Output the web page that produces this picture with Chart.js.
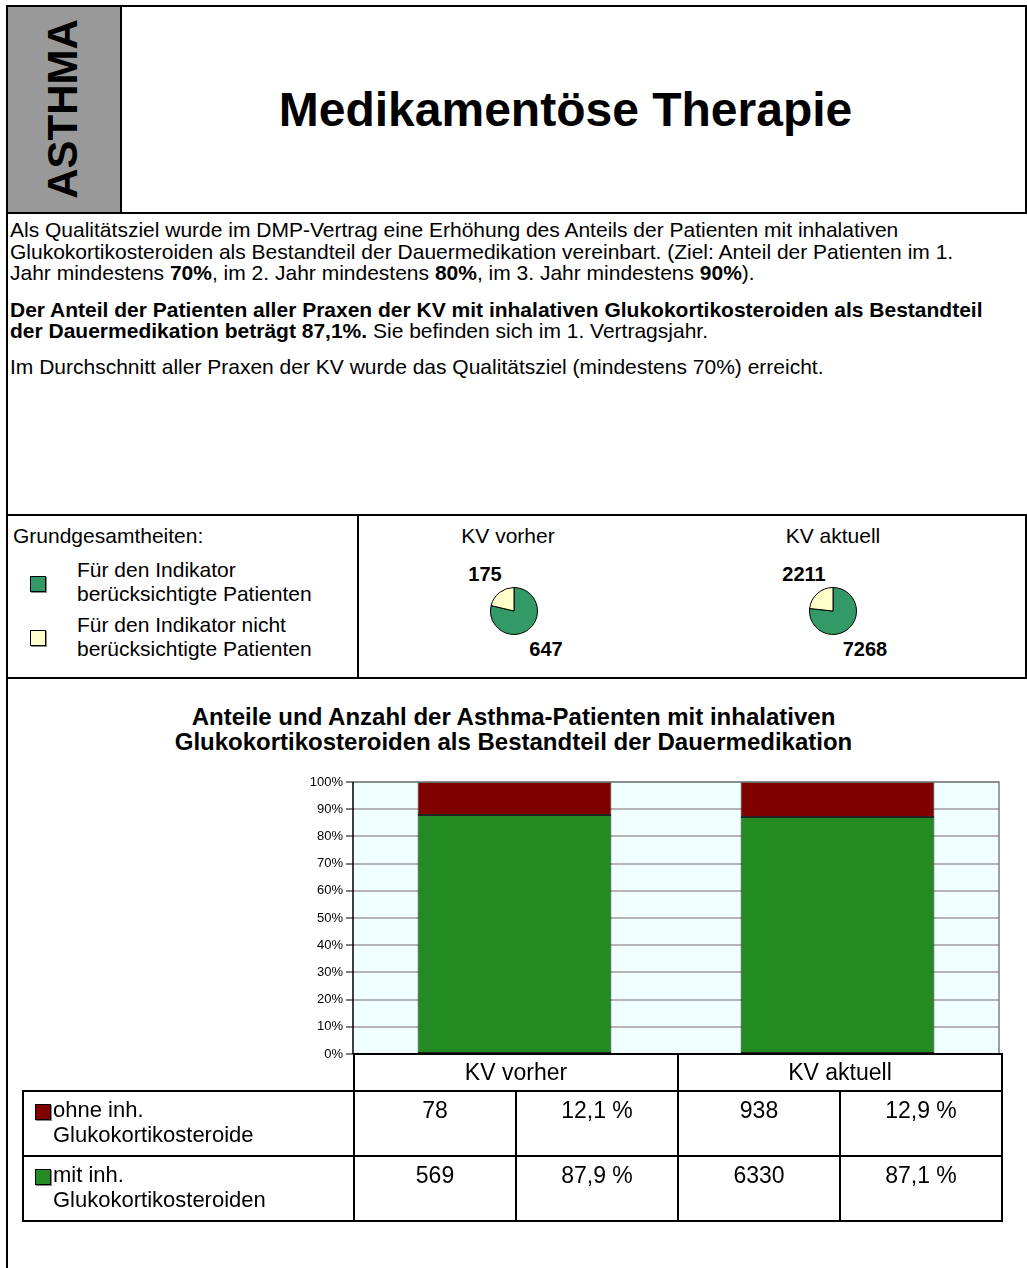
<!DOCTYPE html>
<html lang="de">
<head>
<meta charset="UTF-8">
<title>Medikamentöse Therapie</title>
<script src="https://cdn.jsdelivr.net/npm/chart.js"></script>
<style>
  body { margin: 0; background: #fff; font-family: "Liberation Sans", Arial, sans-serif; color: #000; }
  #page { position: relative; width: 1027px; height: 1268px; overflow: hidden; }
  .abs { position: absolute; }
  #header { left: 6px; top: 5px; width: 1017px; height: 205px; border: 2px solid #000; }
  #side { left: 0; top: 0; width: 112px; height: 205px; background: #999; border-right: 2px solid #000; }
  #side span { position: absolute; left: 55px; top: 102px; transform: translate(-50%, -50%) rotate(-90deg); font-weight: bold; font-size: 42px; white-space: nowrap; }
  #title { left: 114px; top: 0; right: 16px; height: 205px; display: flex; align-items: center; justify-content: center; font-weight: bold; font-size: 48px; }
  #leftline { left: 6px; top: 5px; width: 2px; height: 1263px; background: #000; }
  #text { left: 10px; top: 219px; width: 1015px; font-size: 21px; line-height: 21.5px; white-space: nowrap; }
  #text p { margin: 0 0 15px 0; }
  #text p.last { margin-top: -1px; }
  #grund { left: 6px; top: 514px; width: 1017px; height: 161px; border: 2px solid #000; }
  #grund .div { position: absolute; left: 349px; top: 0; width: 2px; height: 161px; background: #000; }
  .lbl { position: absolute; font-size: 21px; white-space: nowrap; }
  .sq { position: absolute; width: 14px; height: 14px; border: 1px solid #000; box-shadow: 1px 1px 0 #888; }
  .pienum { position: absolute; width: 80px; text-align: center; font-weight: bold; font-size: 20px; }
  #chartTitle { left: 0; width: 1027px; top: 704px; text-align: center; font-weight: bold; font-size: 24px; line-height: 25px; }
  #tbl { position: absolute; left: 22px; top: 1053px; border-collapse: collapse; table-layout: fixed; font-size: 23px; }
  #tbl td { padding: 0; vertical-align: top; text-align: center; white-space: nowrap; }
  #tbl tr.head td { height: 35px; vertical-align: middle; }
  #tbl tr.row td { height: 65px; border: 2px solid #000; padding-top: 7px; line-height: 23px; box-sizing: border-box; }
  #tbl tr.head td.h { border: 2px solid #000; }
  #tbl tr.row td.name { text-align: left; position: relative; padding-left: 29px; padding-top: 5px; font-size: 22px; line-height: 25px; }
  #tbl td.name .sq { left: 11px; top: 12px; }
</style>
</head>
<body>
<div id="page">
  <div id="leftline" class="abs"></div>
  <div id="header" class="abs">
    <div id="side" class="abs"><span>ASTHMA</span></div>
    <div id="title" class="abs">Medikamentöse Therapie</div>
  </div>

  <div id="text" class="abs">
    <p>Als Qualitätsziel wurde im DMP-Vertrag eine Erhöhung des Anteils der Patienten mit inhalativen<br>Glukokortikosteroiden als Bestandteil der Dauermedikation vereinbart. (Ziel: Anteil der Patienten im 1.<br>Jahr mindestens <b>70%</b>, im 2. Jahr mindestens <b>80%</b>, im 3. Jahr mindestens <b>90%</b>).</p>
    <p><b>Der Anteil der Patienten aller Praxen der KV mit inhalativen Glukokortikosteroiden als Bestandteil<br>der Dauermedikation beträgt 87,1%.</b> Sie befinden sich im 1. Vertragsjahr.</p>
    <p class="last">Im Durchschnitt aller Praxen der KV wurde das Qualitätsziel (mindestens 70%) erreicht.</p>
  </div>

  <div id="grund" class="abs">
    <div class="div"></div>
    <div class="lbl" style="left:5px; top:8px;">Grundgesamtheiten:</div>
    <div class="sq" style="left:22px; top:60px; background:#339966;"></div>
    <div class="lbl" style="left:69px; top:42px; line-height:24px;">Für den Indikator<br>berücksichtigte Patienten</div>
    <div class="sq" style="left:22px; top:114px; background:#ffffcc;"></div>
    <div class="lbl" style="left:69px; top:97px; line-height:24px;">Für den Indikator nicht<br>berücksichtigte Patienten</div>
  </div>

  <div id="chartTitle" class="abs">Anteile und Anzahl der Asthma-Patienten mit inhalativen<br>Glukokortikosteroiden als Bestandteil der Dauermedikation</div>

  <div class="abs" style="left:290px; top:770px; width:720px; height:295px;">
    <canvas id="bars" width="720" height="295"></canvas>
  </div>

  <table id="tbl"></table>
</div>

<script>
  // data
  const groups = ['KV vorher', 'KV aktuell'];
  const pieIncluded = [647, 7268];
  const pieExcluded = [175, 2211];
  const seriesNames = ['ohne inh.\nGlukokortikosteroide', 'mit inh.\nGlukokortikosteroiden'];
  const withoutCount = [78, 938];
  const withCount = [569, 6330];
  const withoutPct = [12.1, 12.9];
  const withPct = [87.9, 87.1];

  const GREEN = '#228b22';
  const RED = '#800000';
  const PIE_GREEN = '#339966';
  const PIE_YELLOW = '#ffffcc';

  // pies, positioned inside #grund
  const pieBox = document.getElementById('grund');
  const pieCenters = [[506, 95], [825, 95]];
  const titleShift = [-6, 0];
  groups.forEach((g, i) => {
    const [cx, cy] = pieCenters[i];
    const t = document.createElement('div');
    t.className = 'lbl';
    t.style.left = (cx - 60 + titleShift[i]) + 'px';
    t.style.width = '120px';
    t.style.textAlign = 'center';
    t.style.top = '8px';
    t.textContent = g;
    pieBox.appendChild(t);

    const wrap = document.createElement('div');
    wrap.style.cssText = `position:absolute; left:${cx - 25}px; top:${cy - 25}px; width:50px; height:50px;`;
    const c = document.createElement('canvas');
    c.width = 50; c.height = 50;
    wrap.appendChild(c);
    pieBox.appendChild(wrap);

    new Chart(c, {
      type: 'pie',
      data: {
        labels: ['berücksichtigt', 'nicht berücksichtigt'],
        datasets: [{
          data: [pieIncluded[i], pieExcluded[i]],
          backgroundColor: [PIE_GREEN, PIE_YELLOW],
          borderColor: '#000',
          borderWidth: 1
        }]
      },
      options: {
        responsive: false,
        animation: false,
        layout: { padding: 1 },
        plugins: { legend: { display: false }, tooltip: { enabled: false } }
      }
    });

    const top = document.createElement('div');
    top.className = 'pienum';
    top.style.left = (cx - 29 - 40) + 'px';
    top.style.top = (cy - 48) + 'px';
    top.textContent = pieExcluded[i];
    pieBox.appendChild(top);

    const bot = document.createElement('div');
    bot.className = 'pienum';
    bot.style.left = (cx + 32 - 40) + 'px';
    bot.style.top = (cy + 27) + 'px';
    bot.textContent = pieIncluded[i];
    pieBox.appendChild(bot);
  });

  // plot background + frame
  const plotFrame = {
    id: 'plotFrame',
    beforeDraw(chart) {
      const { ctx, chartArea: a } = chart;
      ctx.save();
      ctx.fillStyle = '#f0ffff';
      ctx.fillRect(a.left, a.top, a.right - a.left, a.bottom - a.top);
      ctx.restore();
    },
    afterDatasetsDraw(chart) {
      const { ctx, chartArea: a } = chart;
      ctx.save();
      ctx.strokeStyle = '#808080';
      ctx.lineWidth = 1.5;
      ctx.beginPath();
      ctx.moveTo(a.left, a.top);
      ctx.lineTo(a.right, a.top);
      ctx.lineTo(a.right, a.bottom);
      ctx.stroke();
      ctx.strokeStyle = '#000';
      ctx.beginPath();
      ctx.moveTo(a.left, a.top);
      ctx.lineTo(a.left, a.bottom);
      ctx.stroke();
      ctx.restore();
    }
  };

  new Chart(document.getElementById('bars'), {
    type: 'bar',
    data: {
      labels: groups,
      datasets: [
        { label: 'mit', data: withPct, backgroundColor: GREEN, borderColor: '#222', borderWidth: 1, borderSkipped: false },
        { label: 'ohne', data: withoutPct, backgroundColor: RED, borderColor: '#222', borderWidth: 1, borderSkipped: false }
      ]
    },
    options: {
      responsive: false,
      animation: false,
      layout: { padding: { top: 12, right: 11, bottom: 11, left: 0 } },
      datasets: { bar: { categoryPercentage: 1, barPercentage: 0.6 } },
      plugins: { legend: { display: false }, tooltip: { enabled: false } },
      scales: {
        x: { stacked: true, display: false },
        y: {
          stacked: true,
          min: 0, max: 100,
          afterFit: s => { s.width = 63; },
          ticks: { stepSize: 10, callback: v => v + '%', color: '#000', font: { family: 'Liberation Sans', size: 13 }, padding: 3 },
          grid: { color: '#b4b4b4', lineWidth: 2, tickColor: '#000', tickLength: 7, tickWidth: 1 },
          border: { display: false }
        }
      }
    },
    plugins: [plotFrame]
  });

  // table
  const fmt = v => v.toFixed(1).replace('.', ',') + ' %';
  const tbl = document.getElementById('tbl');
  const colW = [331, 162, 162, 162, 162];
  let html = '<colgroup>' + colW.map(w => `<col style="width:${w}px">`).join('') + '</colgroup>';
  html += '<tr class="head"><td></td>' + groups.map(g => `<td class="h" colspan="2">${g}</td>`).join('') + '</tr>';
  const rows = [
    { name: seriesNames[0], color: RED, counts: withoutCount, pcts: withoutPct },
    { name: seriesNames[1], color: GREEN, counts: withCount, pcts: withPct }
  ];
  rows.forEach(r => {
    html += `<tr class="row"><td class="name"><span class="sq" style="background:${r.color}"></span>${r.name.replace('\n', '<br>')}</td>`;
    groups.forEach((g, i) => { html += `<td>${r.counts[i]}</td><td>${fmt(r.pcts[i])}</td>`; });
    html += '</tr>';
  });
  tbl.innerHTML = html;
</script>
</body>
</html>
